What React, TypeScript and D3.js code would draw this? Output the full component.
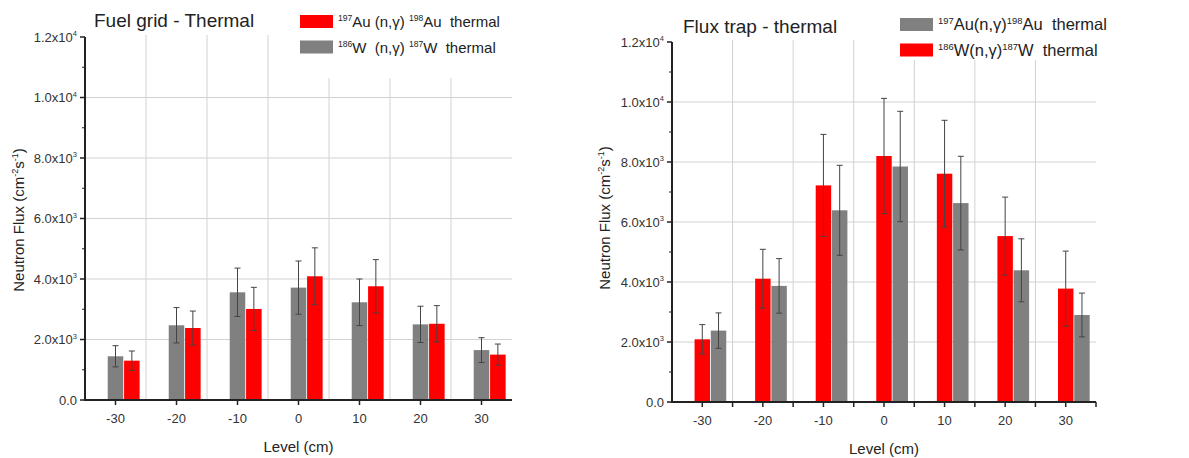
import React from "react";
import * as d3 from "d3";

// ---------- data ----------
const levels = [-30, -20, -10, 0, 10, 20, 30];
const yTicks = [0, 2000, 4000, 6000, 8000, 10000, 12000];

// Fuel grid - Thermal
const fuelAu = [1300, 2380, 3010, 4090, 3760, 2520, 1500];
const fuelAuErr = [320, 560, 715, 940, 880, 600, 350];
const fuelW = [1445, 2470, 3560, 3715, 3230, 2500, 1650];
const fuelWErr = [350, 585, 800, 880, 770, 600, 410];

// Flux trap - thermal
const trapW = [2090, 4110, 7220, 8200, 7610, 5530, 3780];
const trapWErr = [490, 980, 1700, 1920, 1780, 1300, 1250];
const trapAu = [2380, 3870, 6390, 7850, 6630, 4390, 2900];
const trapAuErr = [590, 910, 1500, 1840, 1560, 1050, 730];

const RED = "#ff0000";
const GRAY = "#808080";
const FONT = "'Liberation Sans', Arial, sans-serif";

type Series = { values: number[]; errs: number[]; color: string };
type LegendItem = { color: string; pre1: string; el1: string; mid: string; pre2: string; el2: string };

function fmtTick(v: number) {
  if (v === 0) return { base: "0.0", exp: "" };
  const e = Math.floor(Math.log10(v));
  const m = v / Math.pow(10, e);
  return { base: m.toFixed(1) + "x10", exp: String(e) };
}

function Panel(props: {
  x0: number; x1: number; yTopPx: number; y0: number;
  first: Series; second: Series;
  title: string; titleX: number; titleY: number;
  legend: LegendItem[]; legendX: number; legendY: number; legendBox: [number, number, number, number];
  legendFont: number;
  ylabelX: number; ylabelY: number;
  centerTicksOnly: boolean;
}) {
  const { x0, x1, yTopPx, y0, first, second } = props;
  const x = d3.scaleBand<number>().domain(levels).range([x0, x1]).padding(0);
  const y = d3.scaleLinear().domain([0, 12000]).range([y0, yTopPx]);
  const bw = x.bandwidth();
  const barW = bw * 0.255;
  const gap = 0.8;
  const center = (c: number) => (x(c) as number) + bw / 2;
  const minor = d3.range(1000, 12000, 2000);
  const boundaries = levels.slice(1).map((c) => x(c) as number);

  const bars = (s: Series, off: number) =>
    levels.map((c, i) => {
      const bx = center(c) - barW / 2 + off;
      return (
        <rect key={"b" + i} x={bx} y={y(s.values[i])} width={barW} height={y0 - y(s.values[i])} fill={s.color} />
      );
    });
  const errs = (s: Series, off: number) =>
    levels.map((c, i) => {
      const cx = center(c) + off;
      const top = y(s.values[i] + s.errs[i]);
      const bot = y(s.values[i] - s.errs[i]);
      return (
        <g key={"e" + i} stroke="#444" strokeWidth={1}>
          <line x1={cx} x2={cx} y1={top} y2={bot} />
          <line x1={cx - 3} x2={cx + 3} y1={top} y2={top} />
          <line x1={cx - 3} x2={cx + 3} y1={bot} y2={bot} />
        </g>
      );
    });

  const [lbx, lby, lbw, lbh] = props.legendBox;
  const lf = props.legendFont;

  return (
    <g fontFamily={FONT}>
      {/* grid */}
      <g stroke="#d2d2d2" strokeWidth={1}>
        {yTicks.filter((t) => t > 0 && t < 12000).map((t) => (
          <line key={"h" + t} x1={x0} x2={x1} y1={y(t)} y2={y(t)} />
        ))}
        {boundaries.map((bx, i) => (
          <line key={"v" + i} x1={bx} x2={bx} y1={yTopPx - 2} y2={y0} />
        ))}
      </g>
      {/* legend background */}
      <rect x={lbx} y={lby} width={lbw} height={lbh} fill="#fff" />
      {/* bars */}
      {bars(first, 0)}
      {bars(second, barW + gap)}
      {errs(first, 0)}
      {errs(second, barW + gap)}
      {/* y axis */}
      <line x1={x0} x2={x0} y1={yTopPx} y2={y0 + 1} stroke="#222" strokeWidth={2} />
      {yTicks.map((t) => {
        const f = fmtTick(t);
        return (
          <g key={"yt" + t}>
            <line x1={x0 - 5} x2={x0} y1={y(t)} y2={y(t)} stroke="#222" strokeWidth={1.5} />
            <text x={x0 - 8} y={y(t) + 4.5} fontSize={13} fill="#333" textAnchor="end">
              {f.base}
              {f.exp && <tspan dy={-5.5} fontSize={7.5}>{f.exp}</tspan>}
            </text>
          </g>
        );
      })}
      {minor.map((t) => (
        <line key={"m" + t} x1={x0 - 3} x2={x0} y1={y(t)} y2={y(t)} stroke="#222" strokeWidth={1} />
      ))}
      {/* x axis */}
      <line x1={x0 - 1} x2={x1} y1={y0} y2={y0} stroke="#222" strokeWidth={2} />
      {levels.map((c) => (
        <g key={"xt" + c}>
          <line x1={center(c)} x2={center(c)} y1={y0} y2={y0 + 5} stroke="#222" strokeWidth={1.5} />
          <text x={center(c)} y={y0 + 23} fontSize={13} fill="#333" textAnchor="middle">{c}</text>
        </g>
      ))}
      {!props.centerTicksOnly &&
        [...boundaries, x1].map((bx, i) => (
          <line key={"bt" + i} x1={bx} x2={bx} y1={y0} y2={y0 + 5} stroke="#222" strokeWidth={1.5} />
        ))}
      <text x={(x0 + x1) / 2} y={y0 + 52} fontSize={15} fill="#222" textAnchor="middle">Level (cm)</text>
      {/* y label */}
      <text
        transform={`translate(${props.ylabelX},${props.ylabelY}) rotate(-90)`}
        fontSize={15}
        fill="#222"
        textAnchor="middle"
      >
        Neutron Flux (cm<tspan dy={-6} fontSize={9}>-2</tspan>
        <tspan dy={6}>s</tspan>
        <tspan dy={-6} fontSize={9}>-1</tspan>
        <tspan dy={6}>)</tspan>
      </text>
      {/* title */}
      <text x={props.titleX} y={props.titleY} fontSize={19} fill="#222">{props.title}</text>
      {/* legend */}
      {props.legend.map((it, i) => {
        const ly = props.legendY + i * 25.5;
        return (
          <g key={"lg" + i}>
            <rect x={props.legendX} y={ly - 6.5} width={33} height={13} fill={it.color} />
            <text x={props.legendX + 38} y={ly + 5.5} fontSize={lf} fill="#222" style={{ whiteSpace: "pre" }}>
              <tspan dy={-6} fontSize={lf * 0.57}>{it.pre1}</tspan>
              <tspan dy={6}>{it.el1 + it.mid}</tspan>
              <tspan dy={-6} fontSize={lf * 0.57}>{it.pre2}</tspan>
              <tspan dy={6}>{it.el2 + "  thermal"}</tspan>
            </text>
          </g>
        );
      })}
    </g>
  );
}

export default function App() {
  return (
    <svg width={1189} height={458} style={{ display: "block", position: "absolute", left: 0, top: 0, background: "#fff" }}>
      <rect width={1189} height={458} fill="#fff" />
      <Panel
        x0={85}
        x1={512}
        yTopPx={37}
        y0={400}
        first={{ values: fuelW, errs: fuelWErr, color: GRAY }}
        second={{ values: fuelAu, errs: fuelAuErr, color: RED }}
        title="Fuel grid - Thermal"
        titleX={94}
        titleY={27}
        legend={[
          { color: RED, pre1: "197", el1: "Au", mid: " (n,\u03b3) ", pre2: "198", el2: "Au" },
          { color: GRAY, pre1: "186", el1: "W", mid: "  (n,\u03b3) ", pre2: "187", el2: "W" },
        ]}
        legendX={300}
        legendY={21.5}
        legendBox={[296, 0, 220, 78]}
        legendFont={15}
        ylabelX={24}
        ylabelY={220}
        centerTicksOnly={true}
      />
      <Panel
        x0={672}
        x1={1096}
        yTopPx={42}
        y0={402}
        first={{ values: trapW, errs: trapWErr, color: RED }}
        second={{ values: trapAu, errs: trapAuErr, color: GRAY }}
        title="Flux trap - thermal"
        titleX={683}
        titleY={33}
        legend={[
          { color: GRAY, pre1: "197", el1: "Au", mid: "(n,\u03b3)", pre2: "198", el2: "Au" },
          { color: RED, pre1: "186", el1: "W", mid: "(n,\u03b3)", pre2: "187", el2: "W" },
        ]}
        legendX={900}
        legendY={24.5}
        legendBox={[880, 0, 230, 60]}
        legendFont={16.5}
        ylabelX={610}
        ylabelY={218}
        centerTicksOnly={false}
      />
    </svg>
  );
}
